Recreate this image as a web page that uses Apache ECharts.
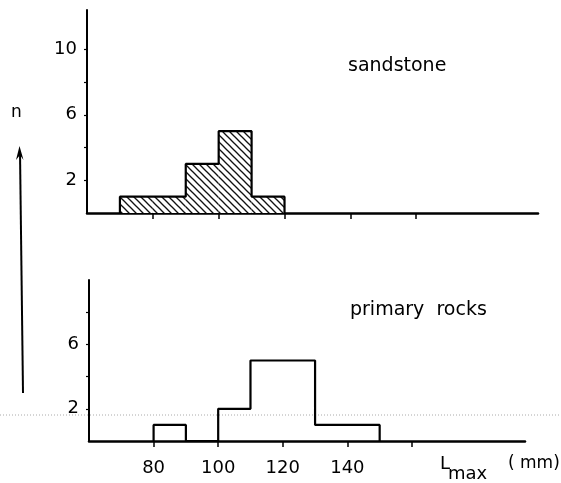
<!DOCTYPE html>
<html>
<head>
<meta charset="utf-8">
<script src="https://cdn.jsdelivr.net/npm/echarts@6/dist/echarts.min.js"></script>
<style>html,body{margin:0;padding:0;background:#fff}#c{width:561px;height:483px}</style>
</head>
<body>
<div id="c"></div>
<script>
// ---- data ----
var sandBinStart = [70, 80, 90, 100, 110];
var sandBinEnd   = [80, 90, 100, 110, 120];
var sandCounts   = [1, 1, 3, 5, 1];

var primBinStart = [80, 90, 100, 110, 130];
var primBinEnd   = [90, 100, 110, 130, 150];
var primCounts   = [1, 0, 2, 5, 1];

var xTicks = [80, 100, 120, 140, 160];
var xLabels = [80, 100, 120, 140];
var yTicksTop = [2, 4, 6, 8, 10];
var yLabelsTop = [2, 6, 10];
var yTicksBottom = [2, 4, 6, 8];
var yLabelsBottom = [2, 6];

function outline(starts, ends, counts) {
  var pts = [[starts[0], 0]];
  for (var i = 0; i < starts.length; i++) {
    pts.push([starts[i], counts[i]]);
    pts.push([ends[i], counts[i]]);
  }
  pts.push([ends[ends.length - 1], 0]);
  return pts;
}
function binData(starts, ends, counts) {
  return starts.map(function (s, i) { return [s, ends[i], counts[i]]; });
}

// hatch pattern
var pc = document.createElement('canvas');
var P = 7;
pc.width = P; pc.height = P;
var g = pc.getContext('2d');
g.fillStyle = '#fff'; g.fillRect(0, 0, P, P);
g.strokeStyle = '#111'; g.lineWidth = 1.3;
[-P, 0, P].forEach(function (k) {
  g.beginPath(); g.moveTo(k - 1, -1); g.lineTo(k + P + 1, P + 1); g.stroke();
});

var FONT = 'DejaVu Sans';
var chart = echarts.init(document.getElementById('c'), null, {renderer: 'canvas'});

function xAxis(grid, showLabels, max) {
  return {
    gridIndex: grid, type: 'value', min: 60, max: max, interval: 20,
    axisLine: {show: true, onZero: false, lineStyle: {color: '#000', width: 2.5}},
    axisTick: {show: true, customValues: xTicks, length: 6, lineStyle: {color: '#000', width: 1.5}},
    axisLabel: {show: showLabels, customValues: xLabels, margin: 18, color: '#000', fontSize: 18, fontFamily: FONT},
    splitLine: {show: false}
  };
}
function yAxis(grid, max, ticks, labels) {
  return {
    gridIndex: grid, type: 'value', min: 0, max: max, interval: 2,
    axisLine: {show: true, onZero: false, lineStyle: {color: '#000', width: 2}},
    axisTick: {show: true, customValues: ticks, length: 3, lineStyle: {color: '#000', width: 1.2}},
    axisLabel: {show: true, customValues: labels, margin: 10, color: '#000', fontSize: 18, fontFamily: FONT},
    splitLine: {show: false}
  };
}

chart.setOption({
  animation: false,
  backgroundColor: '#fff',
  grid: [
    {left: 87, top: 10, width: 451, height: 203},
    {left: 89, top: 280, width: 436, height: 161}
  ],
  xAxis: [xAxis(0, false, 197), xAxis(1, true, 195)],
  yAxis: [yAxis(0, 12.4, yTicksTop, yLabelsTop), yAxis(1, 10, yTicksBottom, yLabelsBottom)],
  series: [
    {
      type: 'custom', xAxisIndex: 0, yAxisIndex: 0,
      data: binData(sandBinStart, sandBinEnd, sandCounts),
      encode: {x: [0, 1], y: 2},
      renderItem: function (params, api) {
        var p0 = api.coord([api.value(0), 0]);
        var p1 = api.coord([api.value(1), api.value(2)]);
        return {type: 'rect', shape: {x: p0[0], y: p1[1], width: p1[0] - p0[0], height: p0[1] - p1[1]},
          style: {fill: {image: pc, repeat: 'repeat'}, stroke: null}};
      },
      z: 2
    },
    {
      type: 'line', xAxisIndex: 0, yAxisIndex: 0, symbol: 'none',
      data: outline(sandBinStart, sandBinEnd, sandCounts),
      lineStyle: {color: '#000', width: 2.2}, z: 3
    },
    {
      type: 'line', xAxisIndex: 1, yAxisIndex: 1, symbol: 'none',
      data: outline(primBinStart, primBinEnd, primCounts),
      lineStyle: {color: '#000', width: 2.2}, z: 3
    }
  ],
  graphic: [
    {type: 'line', shape: {x1: 0, y1: 415, x2: 561, y2: 415}, style: {stroke: '#aaa', lineWidth: 1, lineDash: [1, 2]}, z: 0},
    {type: 'text', left: 348, top: 57, style: {text: 'sandstone', font: '19px "' + FONT + '"', fill: '#000'}},
    {type: 'text', left: 350, top: 301, style: {text: 'primary  rocks', font: '19px "' + FONT + '"', fill: '#000'}},
    {type: 'text', left: 11, top: 104, style: {text: 'n', font: '17px "' + FONT + '"', fill: '#000'}},
    {type: 'line', shape: {x1: 23, y1: 393, x2: 20, y2: 152}, style: {stroke: '#000', lineWidth: 2}},
    {type: 'polygon', shape: {points: [[19.5, 146], [16, 160], [20, 155], [23.5, 160]]}, style: {fill: '#000'}},
    {type: 'text', left: 440, top: 455, style: {text: 'L', font: '18px "' + FONT + '"', fill: '#000'}},
    {type: 'text', left: 448, top: 465, style: {text: 'max', font: '18px "' + FONT + '"', fill: '#000'}},
    {type: 'text', left: 508, top: 455, style: {text: '( mm)', font: '17px "' + FONT + '"', fill: '#000'}}
  ]
});
</script>
</body>
</html>
